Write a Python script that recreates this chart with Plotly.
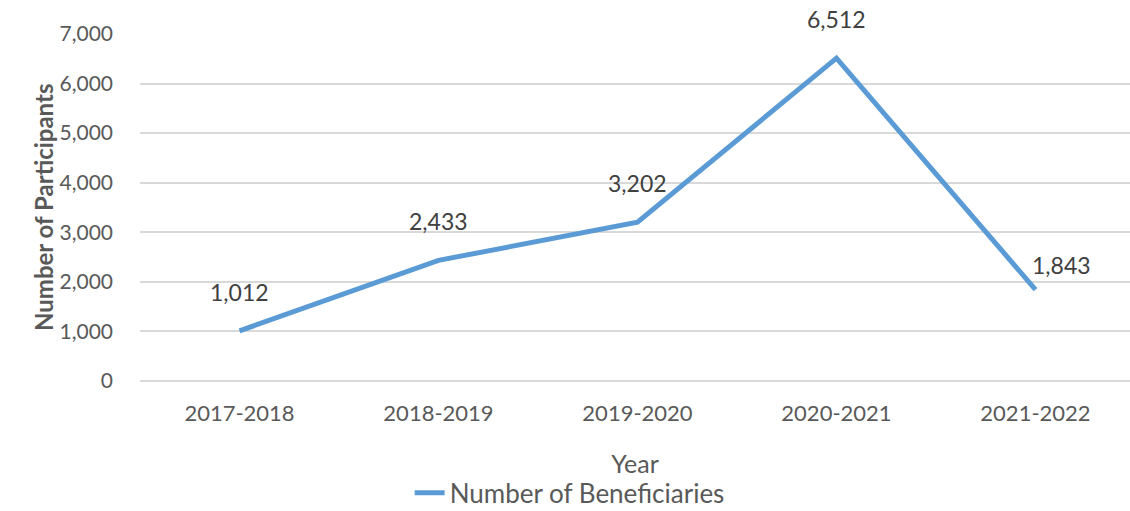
import plotly.graph_objects as go

years = ["2017-2018", "2018-2019", "2019-2020", "2020-2021", "2021-2022"]
beneficiaries = [1012, 2433, 3202, 6512, 1843]
label_xshift = [0, 0, 0, 0, 26]
label_yshift = [39, 39, 39, 39, 25]
y_ticks = [0, 1000, 2000, 3000, 4000, 5000, 6000, 7000]

FONT = "Lato"
GREY = "#595959"

fig = go.Figure()
fig.add_trace(go.Scatter(
    x=list(range(len(years))), y=beneficiaries, mode="lines",
    name="Number of Beneficiaries",
    line=dict(color="#5B9BD5", width=5),
))
for i, v in enumerate(beneficiaries):
    fig.add_annotation(x=i, y=v, text=f"{v:,}", showarrow=False,
                       xshift=label_xshift[i], yshift=label_yshift[i],
                       font=dict(family=FONT, size=23, color="#404040"))

fig.add_annotation(xref="paper", yref="paper", x=0, y=0.5, xshift=-113,
                   text="<b>Number of Participants</b>", textangle=-90,
                   showarrow=False, font=dict(family=FONT, size=24, color=GREY))

fig.update_layout(
    width=1130, height=511,
    margin=dict(l=140, r=0, t=34, b=130, autoexpand=False),
    plot_bgcolor="white", paper_bgcolor="white",
    font=dict(family=FONT, color=GREY, size=22),
    showlegend=True,
    legend=dict(orientation="h", x=0.434, xanchor="center", y=-0.322, yanchor="middle",
                font=dict(family=FONT, size=26, color=GREY)),
    xaxis=dict(
        tickmode="array", tickvals=list(range(len(years))), ticktext=years,
        range=[-0.5, 4.475], showgrid=False, zeroline=False, automargin=False,
        showline=False, ticks="", ticklabelstandoff=17,
        tickfont=dict(family=FONT, size=22, color=GREY),
        title=dict(text="Year", font=dict(family=FONT, size=25, color=GREY), standoff=30),
    ),
    yaxis=dict(
        range=[0, 7000], tickvals=y_ticks, tickformat=",", automargin=False,
        showgrid=True, gridcolor="#D9D9D9", gridwidth=1.5,
        zeroline=True, zerolinecolor="#D9D9D9", zerolinewidth=1.5,
        showline=False, ticks="", ticklabelstandoff=26,
        tickfont=dict(family=FONT, size=21, color=GREY),
    ),
)

fig.write_html("out.html")
